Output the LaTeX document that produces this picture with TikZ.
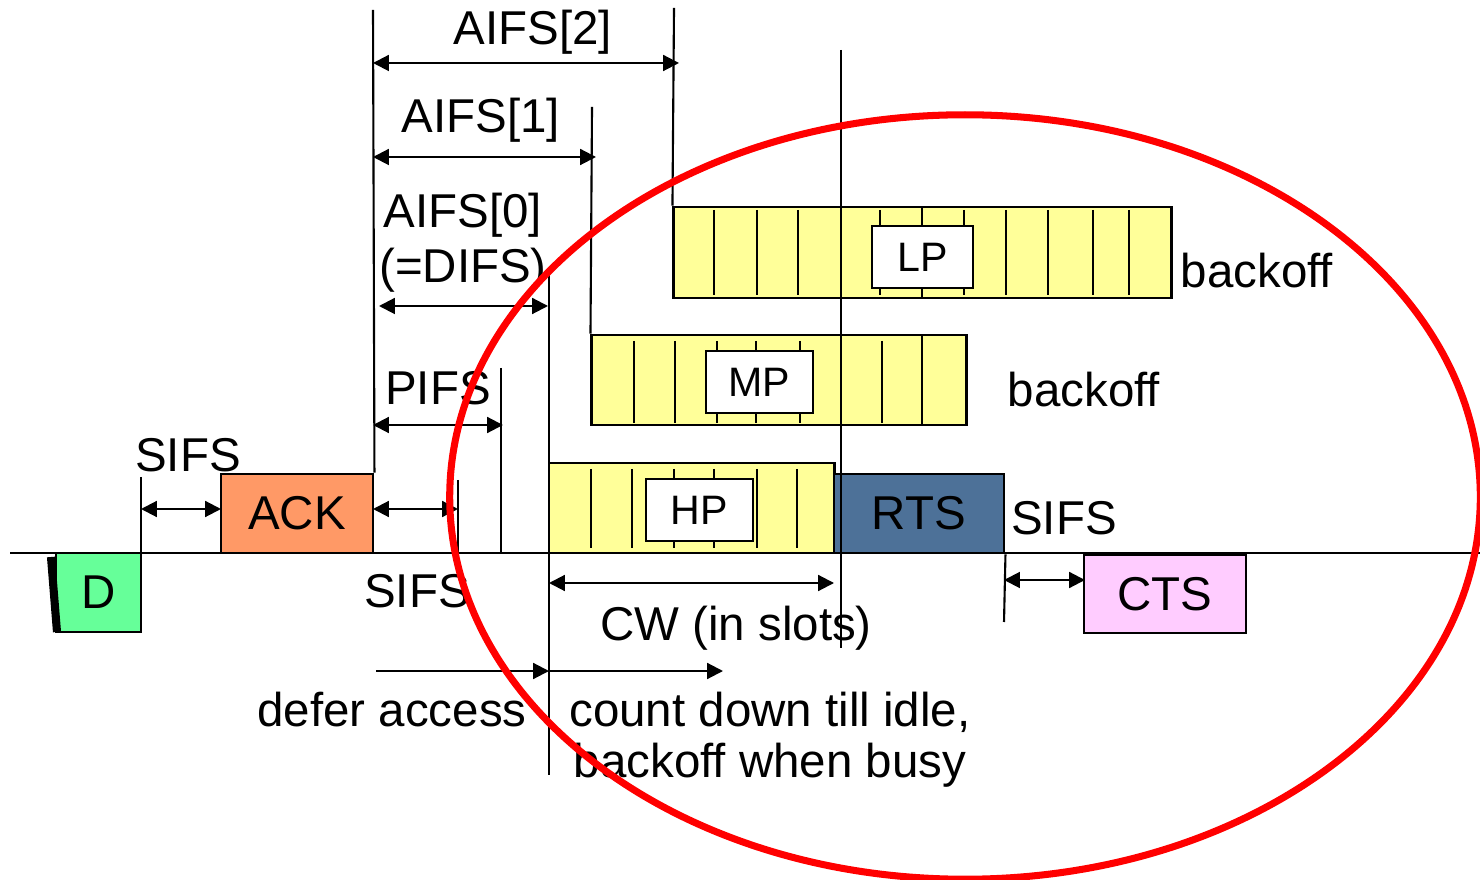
\documentclass[tikz,border=0pt]{standalone}
\usepackage{fontspec}
\setmainfont{Liberation Sans}
\usetikzlibrary{arrows.meta}

\definecolor{dataGreen}{HTML}{66FF99}
\definecolor{ackOrange}{HTML}{FF9966}
\definecolor{slotYellow}{HTML}{FFFF99}
\definecolor{rtsBlue}{HTML}{4D7198}
\definecolor{ctsPink}{HTML}{FFCCFF}

\begin{document}
\begin{tikzpicture}[x=0.01cm, y=-0.01cm, >={Triangle[length=4.5pt,width=4.5pt]},
  every node/.style={font=\fontsize{13.5}{16}\selectfont},
  frame/.style={draw, line width=0.8pt, inner sep=0pt},
  tag/.style={draw, fill=white, line width=0.8pt, inner sep=0pt, font=\fontsize{11.7}{14}\selectfont},
  txt/.style={anchor=base, inner sep=0pt},
  tick/.style={line width=0.6pt},
  span/.style={<->, line width=0.6pt}]

  \fill[white] (0,0) rectangle (1480,880);
  \useasboundingbox (0,0) rectangle (1480,880);

  \coordinate (lineL) at (10,553);
  \coordinate (lineR) at (1480,553);
  \draw[line width=0.8pt] (lineL) -- (lineR);

  \node[frame, fill=dataGreen, minimum width=0.85cm, minimum height=0.79cm] (data) at (98.5,592.5) {D};
  \draw[line width=2.3pt] (51,557) -- (57,632);
  \node[frame, fill=ackOrange, minimum width=1.52cm, minimum height=0.79cm] (ack) at (297,513.5) {ACK};
  \node[frame, fill=slotYellow, minimum width=2.85cm, minimum height=0.90cm] (hpbar) at (691.5,508) {};
  \node[frame, fill=rtsBlue, minimum width=1.70cm, minimum height=0.79cm] (rts) at (919,513.5) {RTS};
  \node[frame, fill=ctsPink, minimum width=1.62cm, minimum height=0.78cm] (cts) at (1165,594) {CTS};
  \node[frame, fill=slotYellow, minimum width=3.74cm, minimum height=0.90cm] (mpbar) at (779,380) {};
  \node[frame, fill=slotYellow, minimum width=4.97cm, minimum height=0.91cm] (lpbar) at (922.5,252.5) {};

  \foreach \x in {591,632,674,714,757,797} \draw[tick] (\x,469) -- (\x,548);
  \foreach \x in {634,675,717,756,800,882} \draw[tick] (\x,341) -- (\x,423);
  \draw[tick] (922,335) -- (922,425);
  \foreach \x in {714,757,798,880,964,1006,1048,1093,1129} \draw[tick] (\x,210) -- (\x,295);
  \draw[tick] (922,207) -- (922,298);

  \node[tag, minimum width=1.07cm, minimum height=0.62cm] (hp) at (699.5,510) {HP};
  \node[tag, minimum width=1.07cm, minimum height=0.62cm] (mp) at (759.5,382) {MP};
  \node[tag, minimum width=1.01cm, minimum height=0.62cm] (lp) at (922.5,257) {LP};

  \coordinate (sifsA) at (141,477);
  \coordinate (aifsTop) at (373,10);
  \coordinate (sifsB) at (458,480);
  \coordinate (pifsT) at (501,368);
  \coordinate (difsT) at (549,270);
  \coordinate (difsB) at (549,775);
  \coordinate (aifs1T) at (592,107);
  \coordinate (aifs2T) at (674,8);
  \coordinate (slotT) at (841,50);
  \coordinate (slotB) at (841,648);
  \coordinate (rtsB) at (1004,622);

  \draw[tick] (sifsA) -- (sifsA |- lineL);
  \draw[tick] (aifsTop) -- (ack.north east);
  \draw[tick] (sifsB) -- (sifsB |- lineL);
  \draw[tick] (pifsT) -- (pifsT |- lineL);
  \draw[tick] (difsT) -- (difsB);
  \draw[tick] (aifs1T) -- (mpbar.north west);
  \draw[tick] (aifs2T) -- (lpbar.north west);
  \draw[tick] (slotT) -- (slotB);
  \draw[tick] (rts.south east) -- (rtsB);

  \coordinate (sifsArr) at (221,509);
  \coordinate (pifsA) at (503,425);
  \coordinate (difsL) at (379,306);
  \coordinate (difsA) at (548,306);
  \coordinate (aifs1A) at (596,157);
  \coordinate (aifs2A) at (679,63);
  \coordinate (cwA) at (834,583);
  \coordinate (ctsA) at (1085,580);
  \coordinate (deferL) at (376,671);
  \coordinate (countR) at (723,671);

  \draw[span] (sifsA |- sifsArr) -- (sifsArr);
  \draw[span] (aifsTop |- sifsArr) -- (sifsB |- sifsArr);
  \draw[span] (aifsTop |- pifsA) -- (pifsA);
  \draw[span] (difsL) -- (difsA);
  \draw[span] (aifsTop |- aifs1A) -- (aifs1A);
  \draw[span] (aifsTop |- aifs2A) -- (aifs2A);
  \draw[span] (difsT |- cwA) -- (cwA);
  \draw[span] (rtsB |- ctsA) -- (ctsA);
  \draw[->, tick] (deferL) -- (difsT |- deferL);
  \draw[->, tick] (difsT |- deferL) -- (countR);

  \node[txt] (sifsTxtA) at (188,472) {SIFS};
  \node[txt] (sifsTxtB) at (417,607) {SIFS};
  \node[txt] (sifsTxtC) at (1064,535) {SIFS};
  \node[txt] (pifsTxt) at (438,405) {PIFS};
  \node[txt, align=center, font=\fontsize{13.5}{15.9}\selectfont] (difsTxt) at (463,283) {AIFS[0]\\(=DIFS)};
  \node[txt] (aifs1Txt) at (481,133) {AIFS[1]};
  \node[txt] (aifs2Txt) at (533,45) {AIFS[2]};
  \node[txt] (lpTxt) at (1257,288) {backoff};
  \node[txt] (mpTxt) at (1084,407) {backoff};
  \node[txt] (cwTxt) at (736,640) {CW (in slots)};
  \node[txt] (deferTxt) at (392,726) {defer access};
  \node[txt, align=center, font=\fontsize{13.5}{14.5}\selectfont] (countTxt) at (770,777) {count down till idle,\\backoff when busy};

  \draw[red, line width=2pt] (965,497) ellipse [x radius=5.15cm, y radius=3.82cm];
\end{tikzpicture}
\end{document}
